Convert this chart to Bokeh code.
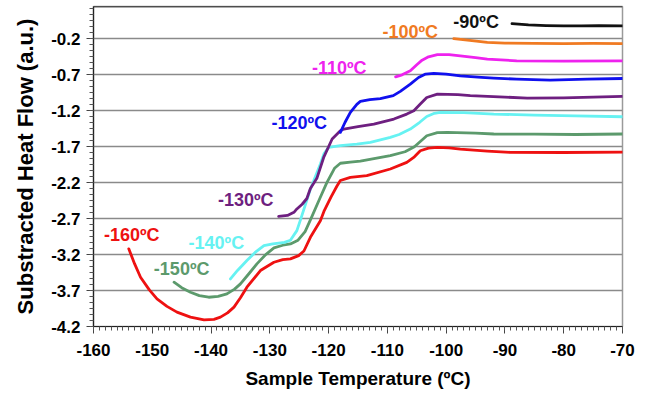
from bokeh.plotting import figure
from bokeh.models import FixedTicker, Label, Span
from bokeh.embed import file_html
from bokeh.resources import INLINE

# ---- data ----
labels = ["-160ºC", "-150ºC", "-140ºC", "-130ºC", "-120ºC", "-110ºC", "-100ºC", "-90ºC"]

t_160 = [-154, -153, -152, -150.5, -149.2, -147.5, -145.8, -143.5, -141.2, -139.5, -138.4, -137.2,
         -136.1, -135, -133.9, -131.6, -129.3, -127.8, -126.5, -125.1, -124.2, -123.1, -121.4, -120.8,
         -119.6, -118.6, -118, -116.3, -113.5, -109.5, -106.7, -105.4, -104.4, -103, -101.5, -99.5,
         -97.6, -93, -89.1, -80, -70]
y_160 = [-3.12, -3.33, -3.515, -3.69, -3.815, -3.92, -4.0, -4.07, -4.107, -4.1, -4.07, -4.01,
         -3.93, -3.8, -3.654, -3.422, -3.307, -3.27, -3.26, -3.214, -3.15, -2.96, -2.73, -2.6,
         -2.4, -2.25, -2.17, -2.126, -2.103, -2.01, -1.918, -1.84, -1.756, -1.72, -1.71, -1.715,
         -1.732, -1.76, -1.779, -1.78, -1.775]

t_150 = [-146.3, -145, -143.5, -142, -140.4, -138.8, -137.3, -136, -135, -133.6, -132.2, -130.7,
         -129.3, -127.8, -126.5, -125.2, -124, -123, -121.5, -120.3, -119, -118, -116.3, -114.6,
         -109.5, -107, -105.4, -103.3, -101.5, -99.8, -95, -91.9, -85, -78, -70]
y_150 = [-3.584, -3.66, -3.723, -3.77, -3.793, -3.78, -3.746, -3.68, -3.607, -3.47, -3.329, -3.2,
         -3.107, -3.07, -3.052, -3.0, -2.88, -2.7, -2.42, -2.2, -2.0, -1.93, -1.915, -1.9,
         -1.825, -1.77, -1.70, -1.547, -1.505, -1.5, -1.51, -1.523, -1.525, -1.53, -1.523]

t_140 = [-136.7, -135.5, -133.9, -132.5, -131, -129.5, -128.8, -127.5, -126.5, -125.4, -124.8, -123.1,
         -121.4, -120.8, -120, -118, -115.2, -112.9, -109.5, -108, -106.1, -104.5, -103.3, -102,
         -101, -97, -91.9, -85, -78, -70]
y_140 = [-3.538, -3.42, -3.283, -3.17, -3.075, -3.05, -3.043, -3.03, -3.0, -2.867, -2.72, -2.29,
         -1.94, -1.8, -1.71, -1.685, -1.663, -1.64, -1.57, -1.53, -1.454, -1.36, -1.28, -1.235,
         -1.223, -1.225, -1.246, -1.26, -1.27, -1.283]

t_130 = [-128.5, -127, -125.9, -125.4, -124.5, -123.7, -123.1, -122, -120.8, -119.4, -118, -117.4,
         -115, -112.3, -108.9, -106.7, -105.5, -104.4, -103.3, -101.5, -98, -95.9, -90, -86.2, -80, -70]
y_130 = [-2.668, -2.655, -2.612, -2.565, -2.5, -2.42, -2.28, -2.14, -1.84, -1.593, -1.478, -1.455,
         -1.42, -1.385, -1.315, -1.246, -1.2, -1.107, -1.015, -0.968, -0.975, -0.99, -1.01, -1.024,
         -1.02, -1.0]

t_120 = [-118, -117.2, -116.3, -115.2, -114.6, -113, -111.2, -109, -107.8, -106.1, -104.7, -103.5,
         -102.1, -100, -97.6, -94, -91.9, -88, -82.3, -76, -70]
y_120 = [-1.5, -1.36, -1.223, -1.11, -1.07, -1.045, -1.03, -0.99, -0.93, -0.83, -0.737, -0.69,
         -0.68, -0.69, -0.714, -0.735, -0.746, -0.76, -0.774, -0.76, -0.751]

t_110 = [-108.6, -107.5, -106.1, -105, -104.1, -103, -101.5, -99.5, -97.6, -95, -93, -88, -80, -70]
y_110 = [-0.728, -0.70, -0.644, -0.56, -0.496, -0.45, -0.42, -0.42, -0.436, -0.46, -0.483, -0.505,
         -0.51, -0.505]

t_100 = [-98.7, -96, -93, -90, -85, -80, -75, -70]
y_100 = [-0.196, -0.22, -0.25, -0.258, -0.262, -0.265, -0.262, -0.265]

t_90 = [-88.8, -86, -83, -80, -77, -74, -70]
y_90 = [0.012, -0.005, -0.015, -0.02, -0.02, -0.018, -0.02]

x_ticks = [-160, -150, -140, -130, -120, -110, -100, -90, -80, -70]
y_ticks = [-4.2, -3.7, -3.2, -2.7, -2.2, -1.7, -1.2, -0.7, -0.2]

colors = ["#EE1111", "#5C9A6C", "#66F2F2", "#6E1F80", "#1010EE", "#EE22EE", "#F07A22", "#111111"]
series_t = [t_160, t_150, t_140, t_130, t_120, t_110, t_100, t_90]
series_y = [y_160, y_150, y_140, y_130, y_120, y_110, y_100, y_90]
# label anchor positions (data coords)
label_pos = [(-153.5, -2.924), (-145, -3.40), (-139.1, -3.036), (-134.1, -2.435),
             (-125, -1.372), (-118.2, -0.60), (-106.1, -0.098), (-94.9, 0.028)]

Y_TOP = 0.25
FONT = "Liberation Sans"

p = figure(width=648, height=395, x_range=(-160, -70), y_range=(-4.2, Y_TOP),
           output_backend="svg", toolbar_location=None,
           min_border_left=93, min_border_right=26, min_border_top=6, min_border_bottom=69)
p.background_fill_color = "white"
p.border_fill_color = "white"
p.outline_line_color = "#9a9a9a"
p.outline_line_width = 1.5

p.xgrid.grid_line_color = None
p.ygrid.grid_line_color = "#8a8a8a"
p.ygrid.grid_line_width = 1.5

p.xaxis.ticker = FixedTicker(ticks=x_ticks, minor_ticks=list(range(-160, -69)))
p.yaxis.ticker = FixedTicker(ticks=y_ticks,
                             minor_ticks=[-4.2 + k * 0.5 / 6 for k in range(0, 54)])
p.xaxis.major_label_overrides = {t: str(t) for t in x_ticks}
p.yaxis.major_label_overrides = {t: f"{t:.1f}" for t in y_ticks}

for ax in (p.xaxis[0], p.yaxis[0]):
    ax.axis_line_color = "#222222"
    ax.axis_line_width = 1.2
    ax.major_tick_line_color = "#444444"
    ax.minor_tick_line_color = "#555555"
    ax.major_tick_in = 0
    ax.major_tick_out = 7
    ax.minor_tick_in = 0
    ax.minor_tick_out = 4
    ax.major_label_text_font = FONT
    ax.major_label_text_font_style = "bold"
    ax.major_label_text_font_size = "17px"
    ax.major_label_text_color = "black"
    ax.axis_label_text_font = FONT
    ax.axis_label_text_font_style = "bold"
    ax.axis_label_text_color = "black"

p.xaxis.axis_label = "Sample Temperature (ºC)"
p.yaxis.axis_label = "Substracted Heat Flow (a.u.)"
p.xaxis.axis_label_text_font_size = "19px"
p.yaxis.axis_label_text_font_size = "22px"
p.xaxis.major_label_standoff = 10
p.yaxis.major_label_standoff = 6
p.xaxis.axis_label_standoff = 9
p.yaxis.axis_label_standoff = 10

p.add_layout(Span(location=Y_TOP, dimension="width", line_color="black", line_width=1.5))

for t, y, c in zip(series_t, series_y, colors):
    p.line(t, y, line_color=c, line_width=2.8, line_join="round", line_cap="round")

for (lx, ly), txt, c in zip(label_pos, labels, colors):
    p.add_layout(Label(x=lx, y=ly, text=txt, text_color=c, text_font=FONT,
                       text_font_style="bold", text_font_size="18px",
                       text_align="center", text_baseline="middle"))

open("out.html", "w").write(file_html(p, INLINE))
